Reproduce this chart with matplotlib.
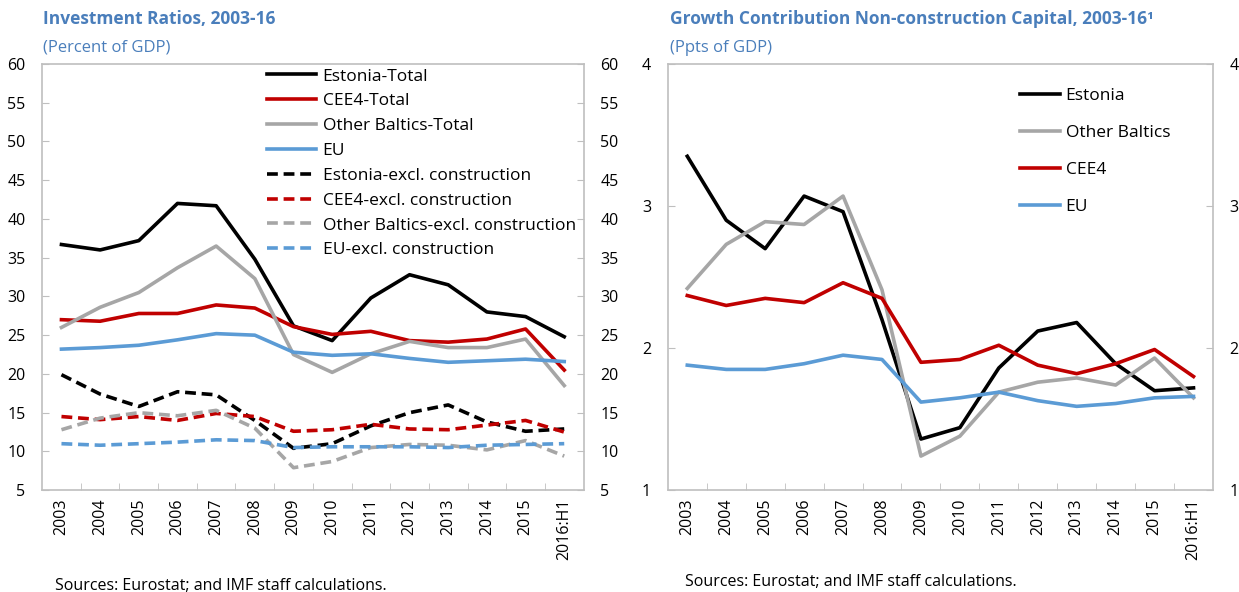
import numpy as np
import matplotlib.pyplot as plt

plt.rcParams['font.family'] = ['Open Sans', 'DejaVu Sans']

years = ['2003', '2004', '2005', '2006', '2007', '2008', '2009', '2010',
         '2011', '2012', '2013', '2014', '2015', '2016:H1']

# left panel: investment ratios, percent of GDP
est_total = [36.7, 36.0, 37.2, 42.0, 41.7, 34.8, 26.2, 24.3, 29.8, 32.8, 31.5, 28.0, 27.4, 24.8]
cee4_total = [27.0, 26.8, 27.8, 27.8, 28.9, 28.5, 26.1, 25.1, 25.5, 24.3, 24.1, 24.5, 25.8, 20.5]
ob_total = [26.0, 28.6, 30.5, 33.7, 36.5, 32.3, 22.5, 20.2, 22.6, 24.2, 23.4, 23.4, 24.5, 18.5]
eu_total = [23.2, 23.4, 23.7, 24.4, 25.2, 25.0, 22.8, 22.4, 22.6, 22.0, 21.5, 21.7, 21.9, 21.6]
est_excl = [19.9, 17.4, 15.8, 17.7, 17.3, 14.0, 10.4, 11.0, 13.3, 15.0, 16.0, 13.8, 12.6, 12.9]
cee4_excl = [14.5, 14.1, 14.5, 14.0, 14.9, 14.5, 12.6, 12.8, 13.5, 12.9, 12.8, 13.4, 14.0, 12.5]
ob_excl = [12.8, 14.3, 15.0, 14.6, 15.3, 13.0, 7.9, 8.7, 10.5, 10.9, 10.8, 10.2, 11.4, 9.4]
eu_excl = [11.0, 10.8, 11.0, 11.2, 11.5, 11.4, 10.5, 10.6, 10.6, 10.6, 10.5, 10.8, 10.9, 11.0]

# right panel: growth contribution, ppts
est_gc = [3.35, 2.90, 2.70, 3.07, 2.96, 2.20, 1.36, 1.44, 1.86, 2.12, 2.18, 1.89, 1.70, 1.72]
ob_gc = [2.42, 2.73, 2.89, 2.87, 3.07, 2.41, 1.24, 1.38, 1.69, 1.76, 1.79, 1.74, 1.93, 1.65]
cee4_gc = [2.37, 2.30, 2.35, 2.32, 2.46, 2.35, 1.90, 1.92, 2.02, 1.88, 1.82, 1.89, 1.99, 1.80]
eu_gc = [1.88, 1.85, 1.85, 1.89, 1.95, 1.92, 1.62, 1.65, 1.69, 1.63, 1.59, 1.61, 1.65, 1.66]

BLACK = '#000000'
RED = '#C00000'
GREY = '#A6A6A6'
BLUE = '#5B9BD5'
TITLE = '#4A7EBB'
SPINE = '#BFBFBF'

fig = plt.figure(figsize=(12.39, 5.92), dpi=100)
ax1 = fig.add_axes([0.034, 0.172, 0.437, 0.72])
ax2 = fig.add_axes([0.539, 0.172, 0.440, 0.72])

x = np.arange(len(years))


def style_axes(ax, lo, hi, step):
    ax.set_xlim(-0.5, len(years) - 0.5)
    ax.set_ylim(lo, hi)
    ticks = np.arange(lo, hi + step / 2, step)
    ax.set_yticks(ticks)
    ax.set_yticklabels([f'{t:g}' for t in ticks])
    ax.tick_params(axis='y', which='both', direction='in', length=5, color=SPINE,
                   labelsize=11.5, left=True, right=True, labelleft=True, labelright=True, pad=12)
    ax.set_xticks(x)
    ax.set_xticklabels(years, rotation=90, fontsize=11.5)
    ax.tick_params(axis='x', which='major', length=0, pad=6)
    ax.set_xticks(np.arange(0.5, len(years) - 1, 1), minor=True)
    ax.tick_params(axis='x', which='minor', direction='in', length=5, color=SPINE)
    for s in ax.spines.values():
        s.set_color(SPINE)
        s.set_linewidth(1.2)


lw = 2.6
dash = (0, (3, 1.6))
ax1.plot(x, est_total, color=BLACK, lw=lw, label='Estonia-Total')
ax1.plot(x, cee4_total, color=RED, lw=lw, label='CEE4-Total')
ax1.plot(x, ob_total, color=GREY, lw=lw, label='Other Baltics-Total')
ax1.plot(x, eu_total, color=BLUE, lw=lw, label='EU')
ax1.plot(x, est_excl, color=BLACK, lw=lw, ls=dash, label='Estonia-excl. construction')
ax1.plot(x, cee4_excl, color=RED, lw=lw, ls=dash, label='CEE4-excl. construction')
ax1.plot(x, ob_excl, color=GREY, lw=lw, ls=dash, label='Other Baltics-excl. construction')
ax1.plot(x, eu_excl, color=BLUE, lw=lw, ls=dash, label='EU-excl. construction')
style_axes(ax1, 5, 60, 5)
ax1.legend(loc='upper right', bbox_to_anchor=(1.005, 1.014), frameon=False, fontsize=12.5,
           handlelength=2.8, handletextpad=0.4, labelspacing=0.5, borderaxespad=0.2)

ax2.plot(x, est_gc, color=BLACK, lw=lw, label='Estonia')
ax2.plot(x, ob_gc, color=GREY, lw=lw, label='Other Baltics')
ax2.plot(x, cee4_gc, color=RED, lw=lw, label='CEE4')
ax2.plot(x, eu_gc, color=BLUE, lw=lw, label='EU')
style_axes(ax2, 1, 4, 1)
ax2.legend(loc='upper right', bbox_to_anchor=(0.95, 0.98), frameon=False, fontsize=12.5,
           handlelength=2.3, handletextpad=0.3, labelspacing=1.2, borderaxespad=0.5)

fig.text(0.035, 0.952, 'Investment Ratios, 2003-16', color=TITLE, fontsize=12.5,
         fontweight='bold', va='bottom')
fig.text(0.035, 0.906, '(Percent of GDP)', color=TITLE, fontsize=12, va='bottom')
fig.text(0.541, 0.952, 'Growth Contribution Non-construction Capital, 2003-16\u00b9', color=TITLE,
         fontsize=12.5, fontweight='bold', va='bottom')
fig.text(0.541, 0.906, '(Ppts of GDP)', color=TITLE, fontsize=12, va='bottom')

fig.text(0.044, -0.004, 'Sources: Eurostat; and IMF staff calculations.', fontsize=11.5, va='bottom')
fig.text(0.553, 0.004, 'Sources: Eurostat; and IMF staff calculations.', fontsize=11.5, va='bottom')

fig.savefig('out.png', dpi=100)
